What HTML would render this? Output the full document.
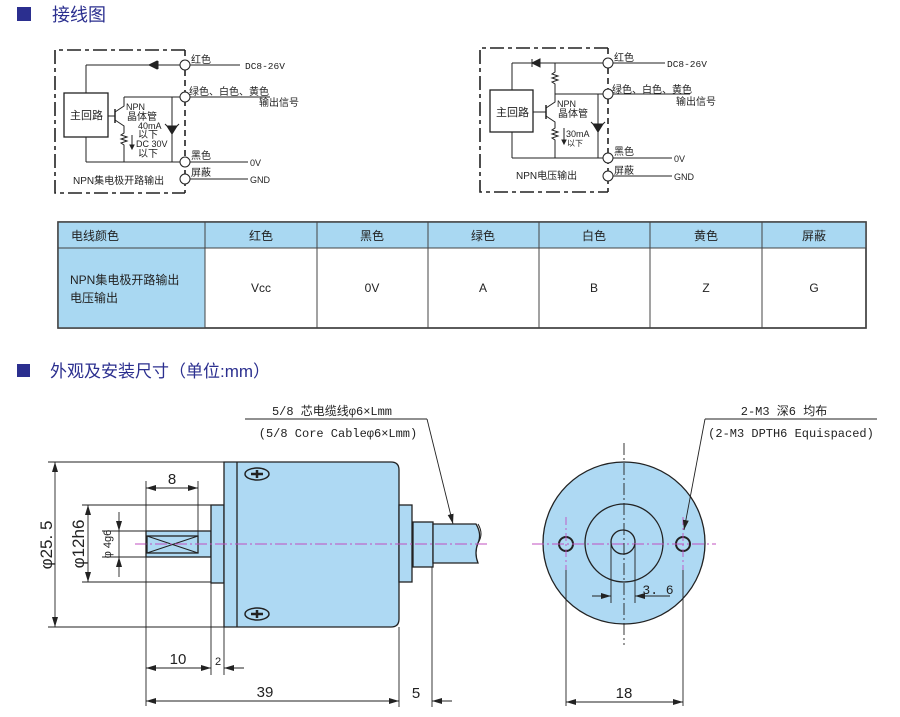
<!DOCTYPE html>
<html><head><meta charset="utf-8"><style>
html,body{margin:0;padding:0;background:#fff;}
svg{display:block;}
text{font-family:"Liberation Sans","Noto Sans CJK SC",sans-serif;}
.m{font-family:"Liberation Mono","Noto Sans CJK SC",monospace;}
</style></head><body>
<svg width="900" height="717" viewBox="0 0 900 717" xmlns="http://www.w3.org/2000/svg">
<defs>
<marker id="a" viewBox="0 0 10 6" refX="10" refY="3" markerWidth="10" markerHeight="6" orient="auto-start-reverse" markerUnits="userSpaceOnUse"><path d="M0,0 L10,3 L0,6z" fill="#222"/></marker>
</defs>
<!-- titles -->
<rect x="17" y="7" width="14" height="14" fill="#2b2f8f"/>
<text x="52" y="21" font-size="18" fill="#2b2f8f">接线图</text>
<rect x="17" y="364" width="13" height="13" fill="#2b2f8f"/>
<text x="50" y="377" font-size="17" fill="#2b2f8f">外观及安装尺寸（单位:mm）</text>

<!-- LEFT WIRING -->
<g stroke="#222" fill="none" stroke-width="1">
<path d="M185,50 H55 V193 H185" stroke-width="1.6" stroke-dasharray="14,4,4,4"/>
<path d="M185,50 V193" stroke-width="1.6" stroke-dasharray="6,4"/>
<line x1="86" y1="65" x2="180" y2="65"/><line x1="190" y1="65" x2="240" y2="65"/>
<line x1="86" y1="65" x2="86" y2="93"/>
<rect x="64" y="93" width="44" height="44" stroke-width="1.3"/>
<line x1="86" y1="137" x2="86" y2="162"/>
<line x1="86" y1="162" x2="180" y2="162"/><line x1="190" y1="162" x2="248" y2="162"/>
<line x1="190" y1="179" x2="248" y2="179"/>
<line x1="124" y1="97" x2="180" y2="97"/><line x1="190" y1="97" x2="270" y2="97"/>
<line x1="108" y1="116" x2="115" y2="116"/>
<line x1="115" y1="109" x2="115" y2="123" stroke-width="1.5"/>
<path d="M115,112 L124,106 V97 M115,120 L124,126 V133 l-3,2 6,2 -6,2 6,2 -6,2 3,2 V162"/>
<line x1="172" y1="97" x2="172" y2="162"/>
<path d="M167,126 h10 l-5,8z" fill="#222"/><path d="M165,124 l2,2 M177,126 l2,-2"/>
<line x1="132" y1="135" x2="132" y2="148"/><path d="M130,145 l2,4 2,-4z" fill="#222"/>
<path d="M158,61 v8 M149,65 l8,-4 v8z" fill="#222"/>
<circle cx="185" cy="65" r="5" fill="#fff"/><circle cx="185" cy="97" r="5" fill="#fff"/>
<circle cx="185" cy="162" r="5" fill="#fff"/><circle cx="185" cy="179" r="5" fill="#fff"/>
</g>
<g font-size="10" fill="#222">
<text x="70" y="119" font-size="11">主回路</text>
<text x="191" y="63">红色</text><text x="245" y="69" class="m" font-size="9.5">DC8-26V</text>
<text x="189" y="95">绿色、白色、黄色</text><text x="259" y="106">输出信号</text>
<text x="126" y="110" font-size="9">NPN</text><text x="127" y="120">晶体管</text>
<text x="138" y="129" font-size="9">40mA</text><text x="138" y="138">以下</text>
<text x="136" y="147" font-size="9">DC 30V</text><text x="138" y="157">以下</text>
<text x="191" y="159">黑色</text><text x="250" y="166" font-size="9">0V</text>
<text x="191" y="176">屏蔽</text><text x="250" y="183" font-size="9">GND</text>
<text x="73" y="184">NPN集电极开路输出</text>
</g>

<!-- RIGHT WIRING -->
<g stroke="#222" fill="none" stroke-width="1">
<path d="M608,48 H480 V192 H608" stroke-width="1.6" stroke-dasharray="14,4,4,4"/>
<path d="M608,48 V192" stroke-width="1.6" stroke-dasharray="6,4"/>
<line x1="512" y1="63" x2="603" y2="63"/><line x1="613" y1="63" x2="665" y2="63"/>
<line x1="512" y1="63" x2="512" y2="90"/>
<rect x="490" y="90" width="43" height="42" stroke-width="1.3"/>
<line x1="512" y1="132" x2="512" y2="158"/>
<line x1="512" y1="158" x2="603" y2="158"/><line x1="613" y1="158" x2="672" y2="158"/>
<line x1="613" y1="176" x2="672" y2="176"/>
<line x1="555" y1="94" x2="603" y2="94"/><line x1="613" y1="94" x2="690" y2="94"/>
<path d="M555,63 V72 l-3,2 6,2 -6,2 6,2 -6,2 3,2 V94"/>
<line x1="533" y1="112" x2="546" y2="112"/><line x1="546" y1="105" x2="546" y2="119" stroke-width="1.5"/>
<path d="M546,108 L555,102 V94 M546,116 L555,122 V128 l-3,2 6,2 -6,2 6,2 -6,2 3,2 V158"/>
<line x1="598" y1="94" x2="598" y2="158"/>
<path d="M593,124 h10 l-5,8z" fill="#222"/><path d="M591,122 l2,2 M603,124 l2,-2"/>
<line x1="564" y1="128" x2="564" y2="143"/><path d="M562,140 l2,4 2,-4z" fill="#222"/>
<path d="M532,59 v8 M540,59 l-8,4 8,4z" fill="#222"/>
<circle cx="608" cy="63" r="5" fill="#fff"/><circle cx="608" cy="94" r="5" fill="#fff"/>
<circle cx="608" cy="158" r="5" fill="#fff"/><circle cx="608" cy="176" r="5" fill="#fff"/>
</g>
<g font-size="10" fill="#222">
<text x="496" y="116" font-size="11">主回路</text>
<text x="614" y="61">红色</text><text x="667" y="67" class="m" font-size="9.5">DC8-26V</text>
<text x="612" y="93">绿色、白色、黄色</text><text x="676" y="105">输出信号</text>
<text x="557" y="107" font-size="9">NPN</text><text x="558" y="117">晶体管</text>
<text x="566" y="137" font-size="9">30mA</text><text x="567" y="146" font-size="8">以下</text>
<text x="614" y="155">黑色</text><text x="674" y="162" font-size="9">0V</text>
<text x="614" y="174">屏蔽</text><text x="674" y="180" font-size="9">GND</text>
<text x="516" y="179">NPN电压输出</text>
</g>

<!-- TABLE -->
<g>
<rect x="58" y="222" width="808" height="106" fill="#fff" stroke="#444" stroke-width="1.5"/>
<rect x="58" y="222" width="808" height="26" fill="#a9d8f2"/>
<rect x="58" y="248" width="147" height="80" fill="#a9d8f2"/>
<rect x="58" y="222" width="808" height="106" fill="none" stroke="#444" stroke-width="1.5"/>
<g stroke="#444" stroke-width="1"><line x1="58" y1="248" x2="866" y2="248"/>
<line x1="205" y1="222" x2="205" y2="328"/><line x1="317" y1="222" x2="317" y2="328"/><line x1="428" y1="222" x2="428" y2="328"/><line x1="539" y1="222" x2="539" y2="328"/><line x1="650" y1="222" x2="650" y2="328"/><line x1="762" y1="222" x2="762" y2="328"/></g>
<g font-size="12" fill="#222" text-anchor="middle">
<text x="95" y="240">电线颜色</text>
<text x="261" y="240">红色</text><text x="372" y="240">黑色</text><text x="483" y="240">绿色</text><text x="594" y="240">白色</text><text x="706" y="240">黄色</text><text x="814" y="240">屏蔽</text>
<text x="261" y="292">Vcc</text><text x="372" y="292">0V</text><text x="483" y="292">A</text><text x="594" y="292">B</text><text x="706" y="292">Z</text><text x="814" y="292">G</text>
</g>
<text x="70" y="284" font-size="12" fill="#222">NPN集电极开路输出</text>
<text x="70" y="302" font-size="12" fill="#222">电压输出</text>
</g>

<!-- SIDE VIEW -->
<g stroke="#222" stroke-width="1.3" fill="#aed9f3">
<rect x="146" y="531" width="65" height="26"/>
<rect x="147" y="536" width="51" height="17" fill="none"/>
<rect x="211" y="505" width="13" height="78"/>
<path d="M224,462 H391 Q399,462 399,470 V619 Q399,627 391,627 H224z"/>
<line x1="237" y1="462" x2="237" y2="627"/>
<rect x="399" y="505" width="13" height="77"/>
<rect x="413" y="522" width="20" height="45"/>
<path d="M433,524 H476 Q482,534 478,543 Q474,553 478,563 H433z"/>
</g>
<g stroke="#222" fill="none" stroke-width="1">
<path d="M147,536 L198,553 M147,553 L198,536"/>
<path d="M478,543 Q484,534 478,524"/>
<ellipse cx="257" cy="474" rx="12" ry="6" stroke-width="1.5"/><path d="M251,474 h12 M257,470 v8" stroke-width="2.5"/>
<ellipse cx="257" cy="614" rx="12" ry="6" stroke-width="1.5"/><path d="M251,614 h12 M257,610 v8" stroke-width="2.5"/>
<line x1="135" y1="544" x2="490" y2="544" stroke="#c050c0" stroke-dasharray="12,3,2,3"/>
<!-- dims -->
<g stroke-width="0.9">
<line x1="48" y1="462" x2="224" y2="462"/><line x1="48" y1="627" x2="224" y2="627"/>
<line x1="55" y1="462" x2="55" y2="627" marker-start="url(#a)" marker-end="url(#a)"/>
<line x1="82" y1="505" x2="211" y2="505"/><line x1="82" y1="582" x2="211" y2="582"/>
<line x1="88" y1="505" x2="88" y2="582" marker-start="url(#a)" marker-end="url(#a)"/>
<line x1="102" y1="531" x2="146" y2="531"/><line x1="102" y1="557" x2="146" y2="557"/>
<line x1="119" y1="512" x2="119" y2="531" marker-end="url(#a)"/><line x1="119" y1="577" x2="119" y2="557" marker-end="url(#a)"/>
<line x1="119" y1="531" x2="119" y2="557"/>
<line x1="146" y1="481" x2="146" y2="706"/><line x1="198" y1="481" x2="198" y2="536"/>
<line x1="146" y1="488" x2="198" y2="488" marker-start="url(#a)" marker-end="url(#a)"/>
<line x1="211" y1="583" x2="211" y2="675"/><line x1="224" y1="627" x2="224" y2="675"/>
<line x1="146" y1="668" x2="211" y2="668" marker-start="url(#a)" marker-end="url(#a)"/>
<line x1="244" y1="668" x2="224" y2="668" marker-end="url(#a)"/>
<line x1="399" y1="627" x2="399" y2="707"/><line x1="432" y1="567" x2="432" y2="707"/>
<line x1="146" y1="701" x2="399" y2="701" marker-start="url(#a)" marker-end="url(#a)"/>
<line x1="452" y1="701" x2="432" y2="701" marker-end="url(#a)"/>
<line x1="245" y1="419" x2="427" y2="419"/>
<line x1="427" y1="419" x2="453" y2="524" marker-end="url(#a)"/>
</g>
</g>
<g fill="#222">
<text x="172" y="484" font-size="15" text-anchor="middle">8</text>
<text x="178" y="664" font-size="15" text-anchor="middle">10</text>
<text x="218" y="665" font-size="11" text-anchor="middle">2</text>
<text x="265" y="697" font-size="15" text-anchor="middle">39</text>
<text x="416" y="698" font-size="15" text-anchor="middle">5</text>
<text transform="translate(52,545) rotate(-90)" font-size="17" text-anchor="middle">φ25. 5</text>
<text transform="translate(84,544) rotate(-90)" font-size="17" text-anchor="middle">φ12h6</text>
<text transform="translate(111,544) rotate(-90)" font-size="11" text-anchor="middle">φ 4g6</text>
<text x="332" y="415" font-size="12" text-anchor="middle" class="m">5/8 芯电缆线φ6×Lmm</text>
<text x="338" y="437" font-size="12" text-anchor="middle" class="m">(5/8 Core Cableφ6×Lmm)</text>
</g>

<!-- FRONT VIEW -->
<g stroke="#222" stroke-width="1.3">
<circle cx="624" cy="543" r="81" fill="#aed9f3"/>
<circle cx="624" cy="543" r="39" fill="none"/>
<circle cx="623" cy="542" r="12" fill="none"/>
<circle cx="566" cy="544" r="7" fill="none" stroke-width="2"/>
<circle cx="683" cy="544" r="7" fill="none" stroke-width="2"/>
</g>
<g stroke-width="0.9" fill="none">
<line x1="532" y1="544" x2="716" y2="544" stroke="#c050c0" stroke-dasharray="12,3,2,3"/>
<line x1="624" y1="443" x2="624" y2="645" stroke="#222" stroke-dasharray="12,3,2,3"/>
<line x1="566" y1="517" x2="566" y2="570" stroke="#c050c0" stroke-dasharray="8,3,2,3"/>
<line x1="683" y1="517" x2="683" y2="570" stroke="#c050c0" stroke-dasharray="8,3,2,3"/>
<g stroke="#222">
<line x1="566" y1="570" x2="566" y2="706"/><line x1="683" y1="570" x2="683" y2="706"/>
<line x1="566" y1="702" x2="683" y2="702" marker-start="url(#a)" marker-end="url(#a)"/>
<line x1="611" y1="544" x2="611" y2="603"/><line x1="635" y1="544" x2="635" y2="603"/>
<line x1="592" y1="596" x2="611" y2="596" marker-end="url(#a)"/>
<line x1="670" y1="596" x2="635" y2="596" marker-end="url(#a)"/>
<line x1="705" y1="419" x2="877" y2="419"/>
<line x1="705" y1="419" x2="684" y2="530" marker-end="url(#a)"/>
</g>
</g>
<g fill="#222">
<text x="658" y="594" font-size="13" text-anchor="middle" class="m">3. 6</text>
<text x="624" y="698" font-size="15" text-anchor="middle">18</text>
<text x="784" y="415" font-size="12" text-anchor="middle" class="m">2-M3 深6 均布</text>
<text x="791" y="437" font-size="12" text-anchor="middle" class="m">(2-M3 DPTH6 Equispaced)</text>
</g>
</svg>
</body></html>
